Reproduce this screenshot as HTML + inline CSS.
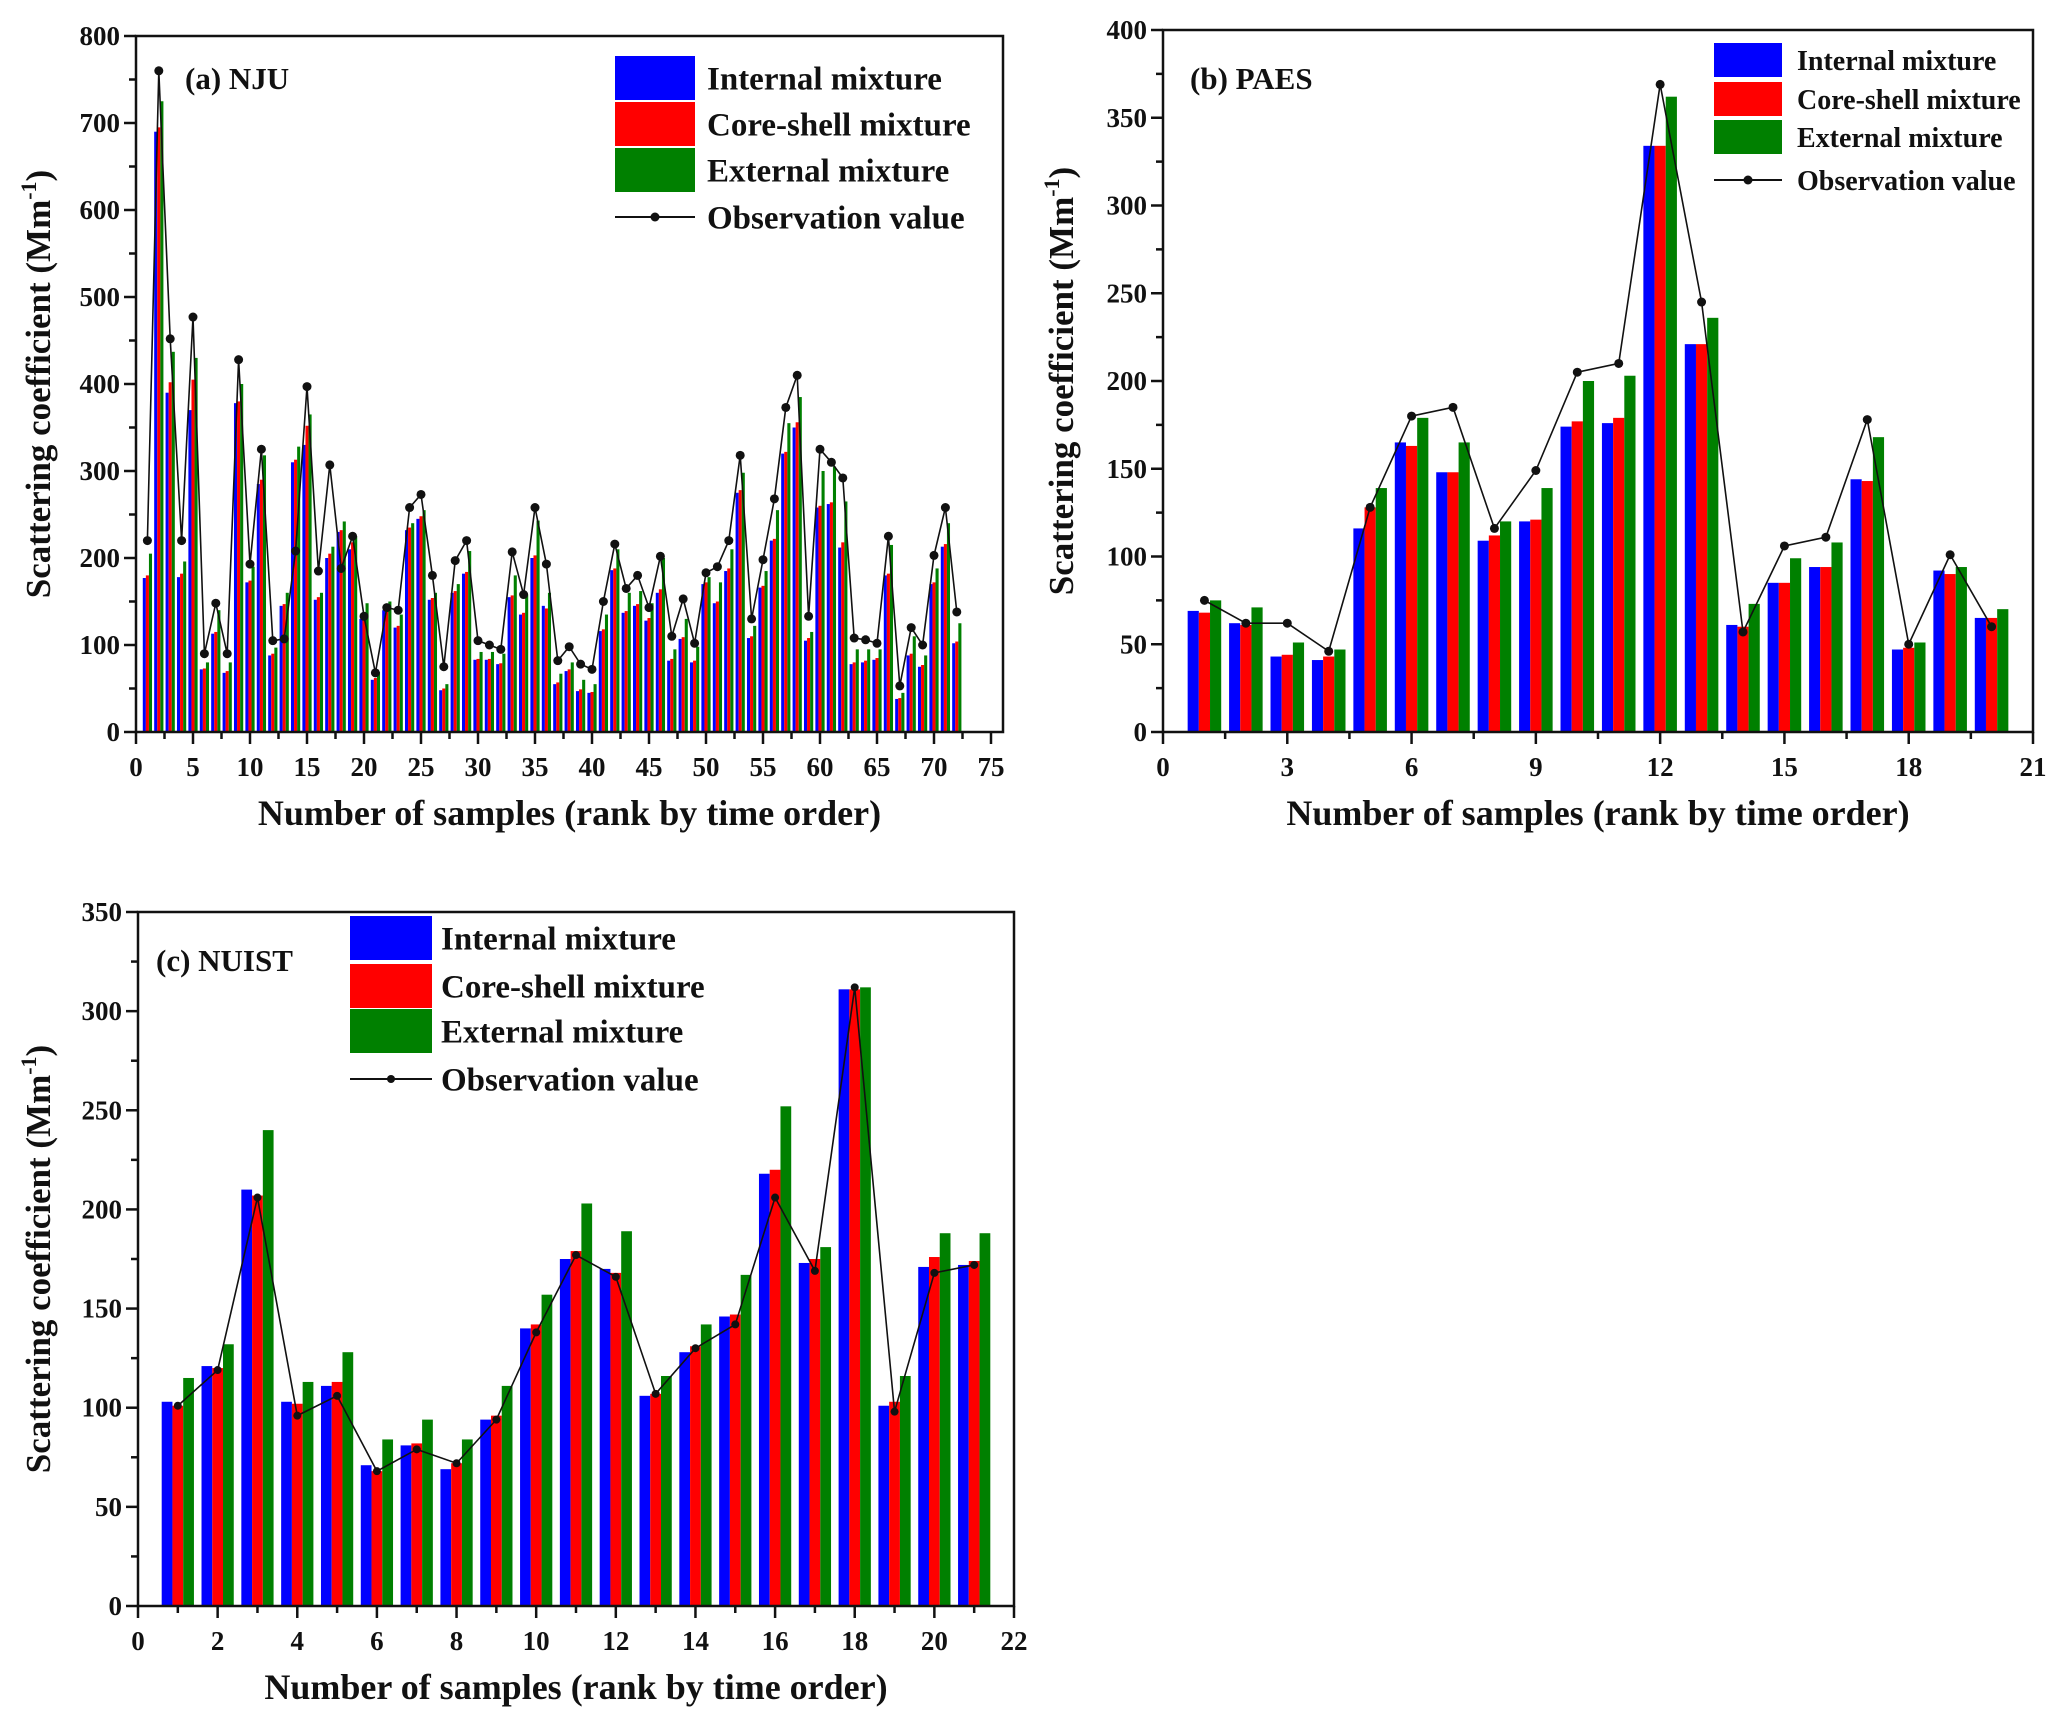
<!DOCTYPE html>
<html><head><meta charset="utf-8"><style>
html,body{margin:0;padding:0;background:#fff}
svg{display:block}
text{font-family:"Liberation Serif",serif;font-weight:bold;fill:#111}
</style></head><body>
<svg id="fig" width="2067" height="1723" viewBox="0 0 2067 1723" xmlns="http://www.w3.org/2000/svg"></svg>
<script>
// ---- data: (a) NJU ----
const njuInternal=[177,690,390,178,370,72,113,68,378,172,285,88,145,310,330,152,200,230,210,130,60,140,120,232,245,152,48,160,182,83,83,78,155,135,200,145,55,70,47,45,116,186,137,145,128,160,82,107,80,170,148,185,275,108,166,220,320,350,105,258,262,212,78,80,83,180,38,88,75,170,213,102];
const njuCore=[180,695,402,182,405,73,115,70,380,174,290,90,147,313,352,155,205,232,218,132,62,142,122,235,248,154,50,162,184,84,84,79,157,137,203,142,57,72,49,46,118,188,139,147,131,164,84,109,82,172,150,188,278,110,168,222,322,356,108,260,264,218,80,82,85,182,39,90,77,172,216,104];
const njuExternal=[205,725,437,196,430,80,140,80,400,190,318,97,160,328,365,160,213,242,225,148,69,150,135,240,255,160,55,170,208,92,92,90,180,158,243,160,67,80,60,55,135,210,160,162,148,200,95,130,98,178,172,210,298,122,185,255,355,385,115,300,305,265,95,95,95,215,45,110,88,188,240,125];
const njuObs=[220,760,452,220,477,90,148,90,428,193,325,105,107,208,397,185,307,188,225,133,68,143,140,258,273,180,75,197,220,105,100,95,207,158,258,193,82,98,78,72,150,216,165,180,143,202,110,153,102,183,190,220,318,130,198,268,373,410,133,325,310,292,108,106,102,225,53,120,100,203,258,138];
const njuYTicks=[0,100,200,300,400,500,600,700,800];
const njuXTicks=[0,5,10,15,20,25,30,35,40,45,50,55,60,65,70,75];
// ---- data: (b) PAES ----
const paesInternal=[69,62,43,41,116,165,148,109,120,174,176,334,221,61,85,94,144,47,92,65];
const paesCore=[68,61,44,43,128,163,148,112,121,177,179,334,221,60,85,94,143,48,90,65];
const paesExternal=[75,71,51,47,139,179,165,120,139,200,203,362,236,73,99,108,168,51,94,70];
const paesObs=[75,62,62,46,128,180,185,116,149,205,210,369,245,57,106,111,178,50,101,60];
const paesYTicks=[0,50,100,150,200,250,300,350,400];
const paesXTicks=[0,3,6,9,12,15,18,21];
// ---- data: (c) NUIST ----
const nuistInternal=[103,121,210,103,111,71,81,69,94,140,175,170,106,128,146,218,173,311,101,171,172];
const nuistCore=[101,120,207,102,113,68,82,72,96,142,179,168,107,131,147,220,175,311,103,176,174];
const nuistExternal=[115,132,240,113,128,84,94,84,111,157,203,189,116,142,167,252,181,312,116,188,188];
const nuistObs=[101,119,206,96,106,68,79,72,94,138,177,166,107,130,142,206,169,312,98,168,172];
const nuistYTicks=[0,50,100,150,200,250,300,350];
const nuistXTicks=[0,2,4,6,8,10,12,14,16,18,20,22];

const NS="http://www.w3.org/2000/svg";
const svg=document.getElementById('fig');
function mk(tag,attrs,parent,txt){const e=document.createElementNS(NS,tag);for(const k in attrs)e.setAttribute(k,attrs[k]);if(txt!==undefined)e.textContent=txt;(parent||svg).appendChild(e);return e;}

function chart(cfg){
  const g=mk('g',{});
  
  
  const xs=v=>cfg.x0+(v-cfg.xmin)*(cfg.x1-cfg.x0)/(cfg.xmax-cfg.xmin);
  const ys=v=>cfg.y0-(v)*(cfg.y0-cfg.y1)/(cfg.ymax);
  const bw=0.27*(xs(1)-xs(0));
  const series=[[cfg.internal,'#0000ff',-1,'internal'],[cfg.core,'#ff0000',0,'core-shell'],[cfg.external,'#008000',1,'external']];
  series.forEach(([arr,col,off,nm])=>{
    arr.forEach((v,i)=>{
      const cx=xs(i+1)+off*bw;
      const r=mk('rect',{x:cx-bw/2,y:ys(v),width:bw,height:ys(0)-ys(v),fill:col},g);
      
      
    });
  });
  const pts=cfg.obs.map((v,i)=>xs(i+1)+','+ys(v)).join(' ');
  const pl=mk('polyline',{points:pts,fill:'none',stroke:'#111','stroke-width':1.6},g);
  
  
  cfg.obs.forEach((v,i)=>{
    const c=mk('circle',{cx:xs(i+1),cy:ys(v),r:cfg.dot,fill:'#111'},g);
    
    
  });
  const fr=mk('rect',{x:cfg.x0,y:cfg.y1,width:cfg.xr-cfg.x0,height:cfg.y0-cfg.y1,fill:'none',stroke:'#111','stroke-width':2.5},g);
  
  
  cfg.yticks.forEach((t,k)=>{
    const y=ys(t);
    mk('line',{x1:cfg.x0-12,y1:y,x2:cfg.x0,y2:y,stroke:'#111','stroke-width':2.5},g);
    const tl=mk('text',{x:cfg.x0-16,y:y+9,'text-anchor':'end','font-size':27},g,String(t));
    
    
    if(k<cfg.yticks.length-1){const ym=ys((t+cfg.yticks[k+1])/2);mk('line',{x1:cfg.x0-7,y1:ym,x2:cfg.x0,y2:ym,stroke:'#111','stroke-width':2.5},g);}
  });
  cfg.xticks.forEach((t,k)=>{
    const x=xs(t);
    mk('line',{x1:x,y1:cfg.y0,x2:x,y2:cfg.y0+12,stroke:'#111','stroke-width':2.5},g);
    const tl=mk('text',{x:x,y:cfg.y0+44,'text-anchor':'middle','font-size':27},g,String(t));
    
    
    if(k<cfg.xticks.length-1){const xm=xs((t+cfg.xticks[k+1])/2);mk('line',{x1:xm,y1:cfg.y0,x2:xm,y2:cfg.y0+7,stroke:'#111','stroke-width':2.5},g);}
  });
  const xt=mk('text',{x:(cfg.x0+cfg.xr)/2,y:cfg.y0+93,'text-anchor':'middle','font-size':36},g,'Number of samples (rank by time order)');
  
  
  const yt=mk('text',{x:0,y:0,'text-anchor':'middle','font-size':35,transform:`translate(${cfg.ytx},${(cfg.y0+cfg.y1)/2}) rotate(-90)`},g);
  
  
  yt.appendChild(document.createTextNode('Scattering  coefficient (Mm'));
  mk('tspan',{'font-size':22,dy:-14},yt,'-1');
  mk('tspan',{dy:14},yt,')');
  const pt=mk('text',{x:cfg.tx,y:cfg.ty+11,'font-size':31},g,cfg.title);
  
  
  const L=cfg.leg;
  const labels=[['Internal mixture','#0000ff'],['Core-shell mixture','#ff0000'],['External mixture','#008000'],['Observation value',null]];
  labels.forEach(([lab,col],k)=>{
    const yc=L.rows[k];
    const lg=mk('g',{},g);
    
    
    if(col){mk('rect',{x:L.x,y:yc-L.h/2,width:L.w,height:L.h,fill:col},lg);}
    else{mk('line',{x1:L.x,y1:yc,x2:L.x+L.w,y2:yc,stroke:'#111','stroke-width':2},lg);mk('circle',{cx:L.x+L.w/2,cy:yc,r:cfg.dot,fill:'#111'},lg);}
    mk('text',{x:L.tx,y:yc+L.fs*0.35,'font-size':L.fs},lg,lab);
  });
}

chart({name:'chart-a-nju',x0:136,x1:991,xr:1003,xmin:0,xmax:75,y0:732,y1:36,ymax:800,
  internal:njuInternal,core:njuCore,external:njuExternal,obs:njuObs,yticks:njuYTicks,xticks:njuXTicks,dot:4.5,
  ytx:50,title:'(a) NJU',tx:185,ty:78,
  leg:{x:615,w:80,h:44,tx:707,fs:33,rows:[78,124,170,217]}});
chart({name:'chart-b-paes',x0:1163,x1:2033,xr:2033,xmin:0,xmax:21,y0:732,y1:30,ymax:400,
  internal:paesInternal,core:paesCore,external:paesExternal,obs:paesObs,yticks:paesYTicks,xticks:paesXTicks,dot:4.5,
  ytx:1073,title:'(b) PAES',tx:1190,ty:78,
  leg:{x:1714,w:68,h:34,tx:1797,fs:28,rows:[60,99,137,180]}});
chart({name:'chart-c-nuist',x0:138,x1:1014,xr:1014,xmin:0,xmax:22,y0:1606,y1:912,ymax:350,
  internal:nuistInternal,core:nuistCore,external:nuistExternal,obs:nuistObs,yticks:nuistYTicks,xticks:nuistXTicks,dot:4,
  ytx:50,title:'(c) NUIST',tx:156,ty:960,
  leg:{x:350,w:82,h:44,tx:441,fs:33,rows:[938,986,1031,1079]}});
</script>
</body></html>
